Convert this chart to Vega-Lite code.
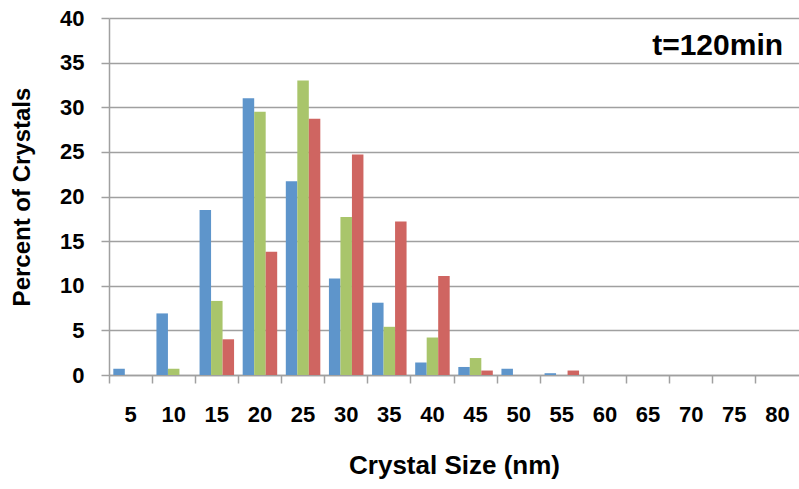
{
  "$schema": "https://vega.github.io/schema/vega-lite/v6.json",
  "width": 690,
  "height": 357,
  "autosize": {"type": "none"},
  "padding": {"left": 109, "top": 18, "right": 0, "bottom": 114},
  "background": "white",
  "config": {
    "view": {"stroke": null},
    "font": "Liberation Sans",
    "axis": {"labelFont": "Liberation Sans", "titleFont": "Liberation Sans", "labelFontWeight": "bold", "titleFontWeight": "bold", "labelColor": "black", "titleColor": "black", "labelFontSize": 22, "titleFontSize": 24}
  },
  "data": {"values": [
    {"size": "5", "series": "A", "pct": 0.7}, {"size": "5", "series": "B", "pct": 0}, {"size": "5", "series": "C", "pct": 0},
    {"size": "10", "series": "A", "pct": 6.9}, {"size": "10", "series": "B", "pct": 0.7}, {"size": "10", "series": "C", "pct": 0},
    {"size": "15", "series": "A", "pct": 18.5}, {"size": "15", "series": "B", "pct": 8.3}, {"size": "15", "series": "C", "pct": 4.0},
    {"size": "20", "series": "A", "pct": 31.0}, {"size": "20", "series": "B", "pct": 29.5}, {"size": "20", "series": "C", "pct": 13.8},
    {"size": "25", "series": "A", "pct": 21.7}, {"size": "25", "series": "B", "pct": 33.0}, {"size": "25", "series": "C", "pct": 28.7},
    {"size": "30", "series": "A", "pct": 10.8}, {"size": "30", "series": "B", "pct": 17.7}, {"size": "30", "series": "C", "pct": 24.7},
    {"size": "35", "series": "A", "pct": 8.1}, {"size": "35", "series": "B", "pct": 5.4}, {"size": "35", "series": "C", "pct": 17.2},
    {"size": "40", "series": "A", "pct": 1.4}, {"size": "40", "series": "B", "pct": 4.2}, {"size": "40", "series": "C", "pct": 11.1},
    {"size": "45", "series": "A", "pct": 0.9}, {"size": "45", "series": "B", "pct": 1.9}, {"size": "45", "series": "C", "pct": 0.5},
    {"size": "50", "series": "A", "pct": 0.7}, {"size": "50", "series": "B", "pct": 0}, {"size": "50", "series": "C", "pct": 0},
    {"size": "55", "series": "A", "pct": 0.2}, {"size": "55", "series": "B", "pct": 0}, {"size": "55", "series": "C", "pct": 0.5},
    {"size": "60", "series": "A", "pct": 0}, {"size": "60", "series": "B", "pct": 0}, {"size": "60", "series": "C", "pct": 0},
    {"size": "65", "series": "A", "pct": 0}, {"size": "65", "series": "B", "pct": 0}, {"size": "65", "series": "C", "pct": 0},
    {"size": "70", "series": "A", "pct": 0}, {"size": "70", "series": "B", "pct": 0}, {"size": "70", "series": "C", "pct": 0},
    {"size": "75", "series": "A", "pct": 0}, {"size": "75", "series": "B", "pct": 0}, {"size": "75", "series": "C", "pct": 0},
    {"size": "80", "series": "A", "pct": 0}, {"size": "80", "series": "B", "pct": 0}, {"size": "80", "series": "C", "pct": 0}
  ]},
  "layer": [
    {
      "mark": {"type": "bar"},
      "encoding": {
        "x": {
          "field": "size", "type": "nominal", "sort": null,
          "scale": {"paddingInner": 0, "paddingOuter": 0},
          "axis": {"title": "Crystal Size (nm)", "titleFontSize": 26, "labelAngle": 0, "bandPosition": 0, "ticks": true, "tickSize": 8, "tickColor": "#a0a0a0", "tickWidth": 1.5, "domainColor": "#a0a0a0", "domainWidth": 1.5, "labelPadding": 21, "titlePadding": 27, "grid": false}
        },
        "xOffset": {"field": "series", "type": "nominal", "scale": {"paddingInner": 0, "paddingOuter": 0.375}},
        "y": {
          "field": "pct", "type": "quantitative",
          "scale": {"domain": [0, 40], "nice": false},
          "axis": {"title": "Percent of Crystals", "values": [0, 5, 10, 15, 20, 25, 30, 35, 40], "grid": true, "gridColor": "#a0a0a0", "gridWidth": 1.5, "tickSize": 8, "tickColor": "#a0a0a0", "tickWidth": 1.5, "domainColor": "#a0a0a0", "domainWidth": 1.5, "labelPadding": 17, "titlePadding": 25}
        },
        "color": {
          "field": "series", "type": "nominal",
          "scale": {"domain": ["A", "B", "C"], "range": ["#5e95cb", "#a9c56b", "#cf6561"]},
          "legend": null
        }
      }
    },
    {
      "data": {"values": [{"label": "t=120min"}]},
      "mark": {"type": "text", "align": "right", "baseline": "middle", "fontSize": 30, "fontWeight": "bold", "font": "Liberation Sans", "color": "black"},
      "encoding": {
        "text": {"field": "label"},
        "x": {"datum": "80", "bandPosition": 0.63},
        "y": {"datum": 36.9}
      }
    }
  ]
}
